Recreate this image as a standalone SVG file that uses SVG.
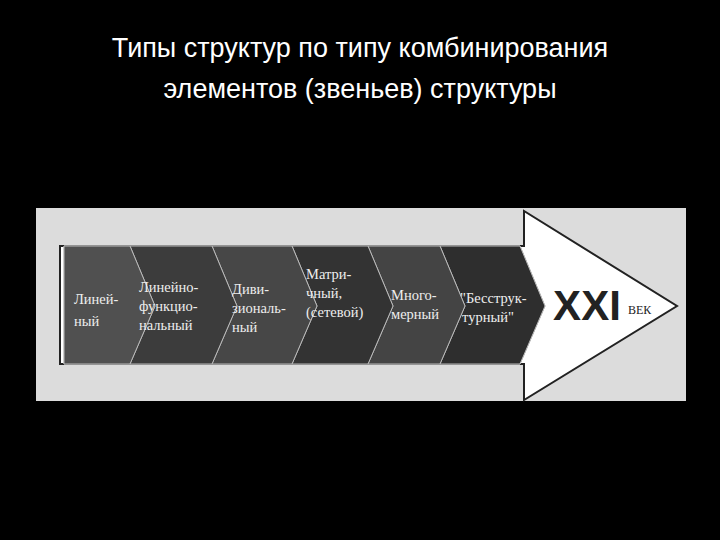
<svg xmlns="http://www.w3.org/2000/svg" width="720" height="540" viewBox="0 0 720 540">
<style>
.t{font-family:"Liberation Sans",Arial,sans-serif;fill:#fff;font-size:27px}
.c{font-family:"Liberation Serif","Times New Roman",serif;fill:#eee;font-size:14.5px}
.ch{stroke:#bbb;stroke-width:1}
</style>
<rect width="720" height="540" fill="#000"/>
<text class="t" x="360" y="57" text-anchor="middle">Типы структур по типу комбинирования</text>
<text class="t" x="360" y="98" text-anchor="middle">элементов (звеньев) структуры</text>
<rect x="36" y="208" width="650" height="193" fill="#dcdcdc"/>
<g id="arrow"><polygon points="60,246 524,246 524,211 677,306 524,400 524,364 60,364" fill="#fff" stroke="#222" stroke-width="2"/></g>
<g id="connectors">
<polygon class="ch" points="64,246 520,246 545,306 520,364 64,364" fill="#3a3a3a"/>
<polygon class="ch" points="440,246 520,246 545,306 520,364 440,364 465,306" fill="#2e2e2e"/>
<polygon class="ch" points="368,246 440,246 465,306 440,364 368,364 393,306" fill="#444"/>
<polygon class="ch" points="292,246 368,246 393,306 368,364 292,364 317,306" fill="#333"/>
<polygon class="ch" points="212,246 292,246 317,306 292,364 212,364 237,306" fill="#474747"/>
<polygon class="ch" points="130,246 212,246 237,306 212,364 130,364 155,306" fill="#3c3c3c"/>
<polygon class="ch" points="64,246 130,246 155,306 130,364 64,364" fill="#505050"/>
</g>
<g id="n1"><text class="c" x="74" y="304">Линей-</text><text class="c" x="74" y="326">ный</text></g>
<g id="n2"><text class="c" x="139" y="292">Линейно-</text><text class="c" x="139" y="311">функцио-</text><text class="c" x="139" y="330">нальный</text></g>
<g id="n3"><text class="c" x="232" y="294">Диви-</text><text class="c" x="232" y="313">зиональ-</text><text class="c" x="232" y="332">ный</text></g>
<g id="n4"><text class="c" x="306" y="279">Матри-</text><text class="c" x="306" y="298">чный,</text><text class="c" x="306" y="317">(сетевой)</text></g>
<g id="n5"><text class="c" x="391" y="300">Много-</text><text class="c" x="391" y="319">мерный</text></g>
<g id="n6"><text class="c" x="460" y="303">"Бесструк-</text><text class="c" x="462" y="322">турный"</text></g>
<g id="n7"><text x="553" y="320" font-family="Liberation Sans Narrow,Liberation Sans,sans-serif" font-size="42" font-weight="bold" fill="#222" textLength="68">XXI</text><text x="628" y="314" font-family="Liberation Serif,serif" font-size="12" fill="#222">ВЕК</text></g>
</svg>
